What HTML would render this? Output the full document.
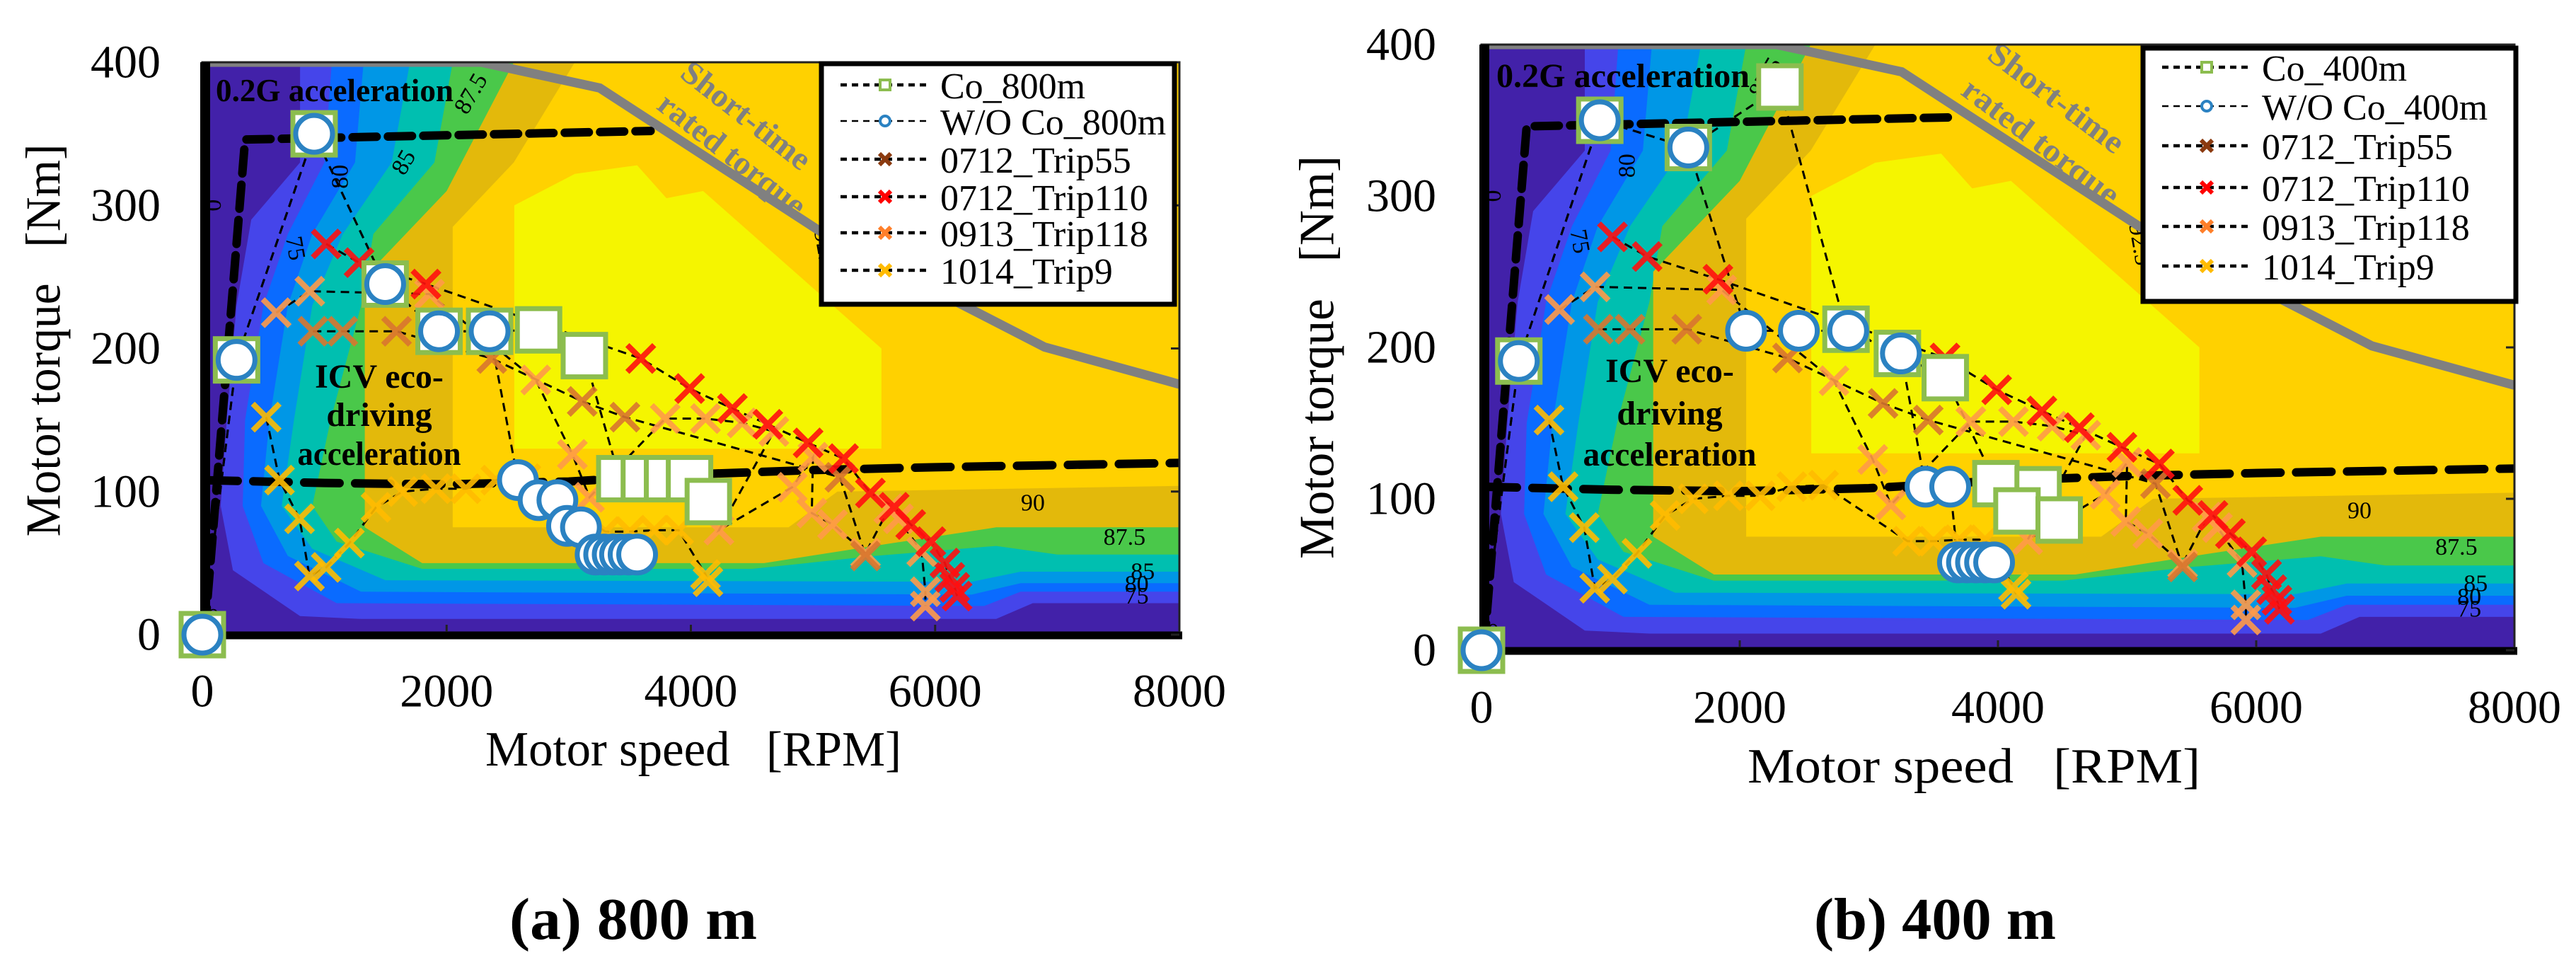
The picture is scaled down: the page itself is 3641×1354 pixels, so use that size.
<!DOCTYPE html>
<html><head><meta charset="utf-8"><style>
html,body{margin:0;padding:0;background:#fff;}
svg{display:block;font-family:"Liberation Serif",serif;}
</style></head><body>
<svg id="fig" width="3641" height="1354" viewBox="0 0 3641 1354" xmlns="http://www.w3.org/2000/svg">
<defs>
<clipPath id="clipA"><rect x="286" y="88" width="1381" height="809"/></clipPath>
<clipPath id="clipB"><rect x="2094" y="63" width="1460" height="856"/></clipPath>
</defs>
</svg>
<script>
// ---------- data ----------
const xTicks=[0,2000,4000,6000,8000];
const yTicks=[0,100,200,300,400];
// efficiency map contour regions [rpm, torque]
const mapColors=['#4221a9','#4545ea','#0a6bff','#0097e6','#00bfb0','#4ac84a','#e3b90b','#ffd100','#f5f500'];
const mapLevels=['lt75','75','80','82','84','85','87.5','90','92.5'];
const mapRegions=[
 [[0,0],[8000,0],[8000,400],[0,400]],
 [[800,400],[800,330],[400,290],[280,230],[200,150],[150,90],[250,45],[800,13],[1300,11],[6500,11],[6800,22],[8000,22],[8000,400]],
 [[1060,400],[1000,330],[700,280],[500,230],[350,150],[330,90],[500,50],[1100,22],[6400,20],[6700,30],[8000,30],[8000,400]],
 [[1320,400],[1250,330],[900,280],[700,230],[550,150],[480,90],[700,55],[1300,30],[6300,28],[6700,36],[8000,36],[8000,400]],
 [[1700,400],[1550,330],[1150,280],[900,230],[750,150],[650,90],[900,60],[1500,38],[6300,37],[6700,44],[8000,44],[8000,400]],
 [[2050,400],[1900,330],[1400,280],[1300,230],[1050,150],[900,90],[1100,65],[1800,46],[4500,46],[5500,55],[6500,62],[7000,56],[8000,56],[8000,400]],
 [[2550,400],[2000,310],[1330,250],[1330,75],[1800,50],[4600,50],[5500,62],[6500,75],[8000,75],[8000,400]],
 [[3050,400],[2550,330],[2050,285],[2050,75],[4800,75],[5200,100],[8000,104],[8000,400]],
 [[2554,300],[3050,322],[3560,328],[3800,305],[4100,310],[5560,200],[5560,130],[2554,130]]
];
const ratedRpm=[0,2286,3254,5092,6896,8000];
const ratedTq=[400,400,382,280,201,175];
const accelRpm=[20,350,3670];
const accelTq=[2,346,352];
const icvRpm=[0,1000,2000,3000,4000,5000,6000,8000];
const icvTq=[108,106,105,107,112,115,117,120];
// series shared by both panels
const trip110Rpm=[1014,1283,1831,3590,3990,4340,4630,4960,5250,5470,5665,5800,5965,6080,6120,6160,6180];
const trip110Tq=[273,260,245,193,172,158,147,134,123,99,89,77,65,50,40,33,27];
const trip118Rpm=[605,880,1860,2730,3030,3170,3790,4120,4420,4680,4230,4830,5000,4990,5160,5430,5620,5700,5890,5920,5920];
const trip118Tq=[225,240,238,178,126,96,151,151,148,142,73,103,124,85,77,57,88,81,58,30,20];
const trip55Rpm=[905,1150,1590,2370,3110,3460,5220,5430];
const trip55Tq=[212,212,212,193,163,152,110,55];
const trip9Rpm=[523,632,796,877,1014,1204,1422,1640,1913,2158,2403,2649,3300,3500,3700,3900,4120,4140];
const trip9Tq=[152,108,81,41,47,64,89,100,102,102,108,109,72,72,73,73,42,37];
// panel (a) 800 m
const coARpm=[0,280,915,1497,1938,2352,2753,3128,3418,3619,3809,3989,4143];
const coATq=[0,192,350,245,212,212,213,195,109,109,109,109,93];
const woARpm=[0,280,915,1497,1938,2352,2584,2753,2907,2986,3100,3220,3290,3360,3420,3490,3560];
const woATq=[0,192,350,245,212,212,108,94,94,76,75,56,56,56,56,56,56];
// panel (b) 400 m
const coBRpm=[0,289,916,1602,2311,2823,3221,3592,3984,4311,4147,4474];
const coBTq=[0,191,350,332,372,212,196,180,110,106,92,86];
const woBRpm=[0,289,916,1602,2049,2458,2840,3248,3439,3630,3690,3760,3830,3900,3970];
const woBTq=[0,191,350,332,211,211,211,196,108,108,58,58,58,58,58];
const legendA=['Co_800m','W/O Co_800m','0712_Trip55','0712_Trip110','0913_Trip118','1014_Trip9'];
const legendB=['Co_400m','W/O Co_400m','0712_Trip55','0712_Trip110','0913_Trip118','1014_Trip9'];

// ---------- drawing ----------
const NS='http://www.w3.org/2000/svg';
const svg=document.getElementById('fig');
function mk(tag,attrs,parent){const e=document.createElementNS(NS,tag);for(const k in attrs)e.setAttribute(k,attrs[k]);(parent||svg).appendChild(e);return e;}
function txt(s,attrs,parent){const e=mk('text',attrs,parent);e.textContent=s;return e;}
const C_SQ='#8cbd4f',C_CI='#2b82c2',C_110='#ff1010',C_118='#ff9a48',C_55='#d8752f',C_9='#ffbb00';

const panels=[
 {id:'a',x0:286,x1:1667,y0:897,y1:88,clip:'clipA',co:[coARpm,coATq],wo:[woARpm,woATq],leg:legendA,
  lx:1161,ly:90,lw:499,lh:340,lys:[120,171,225,278,329,382],
  g02:[305,143,336,46],icv:[536,[548,602,657],231],
  st:[[1055,163,219],[1035,218,252],38],ytx:227,xty:977,xtitle:[980,1082,588],ytitle:[62,481,555],cap:['(a) 800 m',895,1327,350]},
 {id:'b',x0:2094,x1:3554,y0:919,y1:63,clip:'clipB',co:[coBRpm,coBTq],wo:[woBRpm,woBTq],leg:legendB,
  lx:3029,ly:68,lw:527,lh:358,lys:[95,150,206,265,320,376],
  g02:[2115,123,358,48],icv:[2360,[540,600,658],245],
  st:[[2907,138,228],[2885,200,266],37],ytx:2030,xty:1000,xtitle:[2790,1106,640],ytitle:[1862,505,570],cap:['(b) 400 m',2735,1327,342]}
];

function crossAt(g,cx,cy,col,name){
  const p=mk('path',{d:`M${cx-19},${cy-19}L${cx+19},${cy+19}M${cx+19},${cy-19}L${cx-19},${cy+19}`,stroke:col,'stroke-width':8,'stroke-linecap':'butt',fill:'none',opacity:0.9},g);
  
  
}

panels.forEach(P=>{
  const sx=v=>P.x0+(P.x1-P.x0)*v/8000;
  const sy=v=>P.y0+(P.y1-P.y0)*v/400;
  const plot=mk('g',{'clip-path':`url(#${P.clip})`});
  
  
  // efficiency map
  mapRegions.forEach((reg,i)=>{
    const pts=reg.map(q=>sx(q[0]).toFixed(1)+','+sy(q[1]).toFixed(1)).join(' ');
    const pg=mk('polygon',{points:pts,fill:mapColors[i]},plot);
    
    
  });
  // contour labels
  const cl=[['0',90,300,-90],['75',760,270,80],['80',1130,320,-90],['85',1650,330,-60],['87.5',2200,378,-60],['92.5',5100,268,80],['90',6800,92,0],['87.5',7550,68,0],['85',7700,44,0],['80',7650,35,0],['75',7650,27,0],['0',90,12,0],['0',6950,-6,0]];
  cl.forEach(c=>{
    const t=txt(c[0],{x:sx(c[1]),y:sy(c[2]),'font-size':34,'text-anchor':'middle','dominant-baseline':'central',fill:'#000',transform:`rotate(${c[3]} ${sx(c[1])} ${sy(c[2])})`},plot);
    
    
  });
  // rated torque line
  const rl=mk('polyline',{points:ratedRpm.map((r,i)=>sx(r)+','+sy(ratedTq[i])).join(' '),fill:'none',stroke:'#808080','stroke-width':13},plot);
  
  
  // thick dashed reference lines
  const al=mk('polyline',{points:accelRpm.map((r,i)=>sx(r)+','+sy(accelTq[i])).join(' '),fill:'none',stroke:'#000','stroke-width':12,'stroke-dasharray':'34 16','stroke-linecap':'round'},plot);
  
  
  const il=mk('polyline',{points:icvRpm.map((r,i)=>sx(r)+','+sy(icvTq[i])).join(' '),fill:'none',stroke:'#000','stroke-width':12,'stroke-dasharray':'50 22','stroke-linecap':'round'},plot);
  
  
  // thin dashed series lines
  const series=[[trip110Rpm,trip110Tq,'trip110'],[trip118Rpm,trip118Tq,'trip118'],[trip55Rpm,trip55Tq,'trip55'],[trip9Rpm,trip9Tq,'trip9'],[P.co[0],P.co[1],'co'],[P.wo[0],P.wo[1],'wo']];
  series.forEach(s=>{
    const l=mk('polyline',{points:s[0].map((r,i)=>sx(r)+','+sy(s[1][i])).join(' '),fill:'none',stroke:'#000','stroke-width':3,'stroke-dasharray':'12 8'},plot);
    
    
  });
  // annotation text
  const g02=txt('0.2G acceleration',{x:P.g02[0],y:P.g02[1],'font-size':P.g02[3],'font-weight':'bold',textLength:P.g02[2],lengthAdjust:'spacingAndGlyphs'},plot);
  
  
  ['ICV eco-','driving','acceleration'].forEach((s,i)=>{
    const t=txt(s,{x:P.icv[0],y:P.icv[1][i],'font-size':48,'font-weight':'bold','text-anchor':'middle'},plot);
    if(i==2){t.setAttribute('textLength',P.icv[2]);t.setAttribute('lengthAdjust','spacingAndGlyphs');}
    
    
  });
  ['Short-time','rated torque'].forEach((s,i)=>{
    const q=P.st[i];
    const t=txt(s,{x:q[0],y:q[1],'font-size':46,'font-weight':'bold','text-anchor':'middle','dominant-baseline':'central',fill:'#808080',textLength:q[2],lengthAdjust:'spacingAndGlyphs',transform:`rotate(${P.st[2]} ${q[0]} ${q[1]})`},plot);
    
    
  });
  // cross markers
  const mg=mk('g',{});
  
  
  trip118Rpm.forEach((r,i)=>crossAt(mg,sx(r),sy(trip118Tq[i]),C_118,'marker-trip118'));
  trip55Rpm.forEach((r,i)=>crossAt(mg,sx(r),sy(trip55Tq[i]),C_55,'marker-trip55'));
  trip9Rpm.forEach((r,i)=>crossAt(mg,sx(r),sy(trip9Tq[i]),C_9,'marker-trip9'));
  trip110Rpm.forEach((r,i)=>crossAt(mg,sx(r),sy(trip110Tq[i]),C_110,'marker-trip110'));
  // axes frame
  const fr=mk('rect',{x:P.x0,y:P.y1,width:P.x1-P.x0,height:P.y0-P.y1,fill:'none',stroke:'#222','stroke-width':3});
  
  
  const lb=mk('line',{x1:P.x0+4,y1:P.y0+6,x2:P.x0+4,y2:P.y1,stroke:'#000','stroke-width':14});
  
  
  const bb=mk('line',{x1:P.x0,y1:P.y0+1,x2:P.x1+4,y2:P.y0+1,stroke:'#000','stroke-width':11});
  
  
  xTicks.forEach(v=>{
    const tk=mk('line',{x1:sx(v),y1:P.y0-4,x2:sx(v),y2:P.y0-14,stroke:'#222','stroke-width':3});
    
    
    const t=txt(String(v),{x:sx(v),y:P.xty,'font-size':66,'text-anchor':'middle','dominant-baseline':'central'});
    
    
  });
  yTicks.forEach(v=>{
    const tk=mk('line',{x1:P.x1,y1:sy(v),x2:P.x1-12,y2:sy(v),stroke:'#222','stroke-width':3});
    
    
    const t=txt(String(v),{x:P.ytx,y:sy(v),'font-size':66,'text-anchor':'end','dominant-baseline':'central'});
    
    
  });
  // squares then circles (on top, unclipped)
  P.co[0].forEach((r,i)=>{
    const cx=sx(r),cy=sy(P.co[1][i]);
    const s=mk('rect',{x:cx-30,y:cy-30,width:60,height:60,fill:'#fff',stroke:C_SQ,'stroke-width':7});
    
    
  });
  P.wo[0].forEach((r,i)=>{
    const c=mk('circle',{cx:sx(r),cy:sy(P.wo[1][i]),r:26,fill:'#fff',stroke:C_CI,'stroke-width':7});
    
    
  });
  // legend
  const lg=mk('g',{});
  
  
  const lr=mk('rect',{x:P.lx,y:P.ly,width:P.lw,height:P.lh,fill:'#fff',stroke:'#000','stroke-width':7},lg);
  
  
  const cols=[C_SQ,C_CI,'#8b3a0f','#ff0000','#ff7f2a','#ffbb00'];
  P.leg.forEach((s,i)=>{
    const y=P.lys[i],x0=P.lx+27,mx=P.lx+90;
    const ln=mk('line',{x1:x0,y1:y,x2:x0+128,y2:y,stroke:'#000','stroke-width':(i==1?2.5:4.5),'stroke-dasharray':'9 7'},lg);
    
    
    if(i==0){const m=mk('rect',{x:mx-7,y:y-7,width:14,height:14,fill:'#fff',stroke:cols[0],'stroke-width':4},lg);}
    else if(i==1){const m=mk('circle',{cx:mx,cy:y,r:7,fill:'#fff',stroke:cols[1],'stroke-width':4},lg);}
    else{const m=mk('path',{d:`M${mx-8},${y-8}L${mx+8},${y+8}M${mx+8},${y-8}L${mx-8},${y+8}`,stroke:cols[i],'stroke-width':6},lg);}
    const t=txt(s,{x:P.lx+168,y:y+19,'font-size':52},lg);
    
    
  });
  // titles
  const xt=txt('Motor speed\u00a0\u00a0\u00a0[RPM]',{x:P.xtitle[0],y:P.xtitle[1],'font-size':70,'text-anchor':'middle',textLength:P.xtitle[2],lengthAdjust:'spacingAndGlyphs'});
  
  
  const yt=txt('Motor torque\u00a0\u00a0\u00a0[Nm]',{x:P.ytitle[0],y:P.ytitle[1],'font-size':70,'text-anchor':'middle','dominant-baseline':'central',textLength:P.ytitle[2],lengthAdjust:'spacingAndGlyphs',transform:`rotate(-90 ${P.ytitle[0]} ${P.ytitle[1]})`});
  
  
  const cp=txt(P.cap[0],{x:P.cap[1],y:P.cap[2],'font-size':84,'font-weight':'bold','text-anchor':'middle',textLength:P.cap[3],lengthAdjust:'spacingAndGlyphs'});
  
  
});
</script>
</body></html>
